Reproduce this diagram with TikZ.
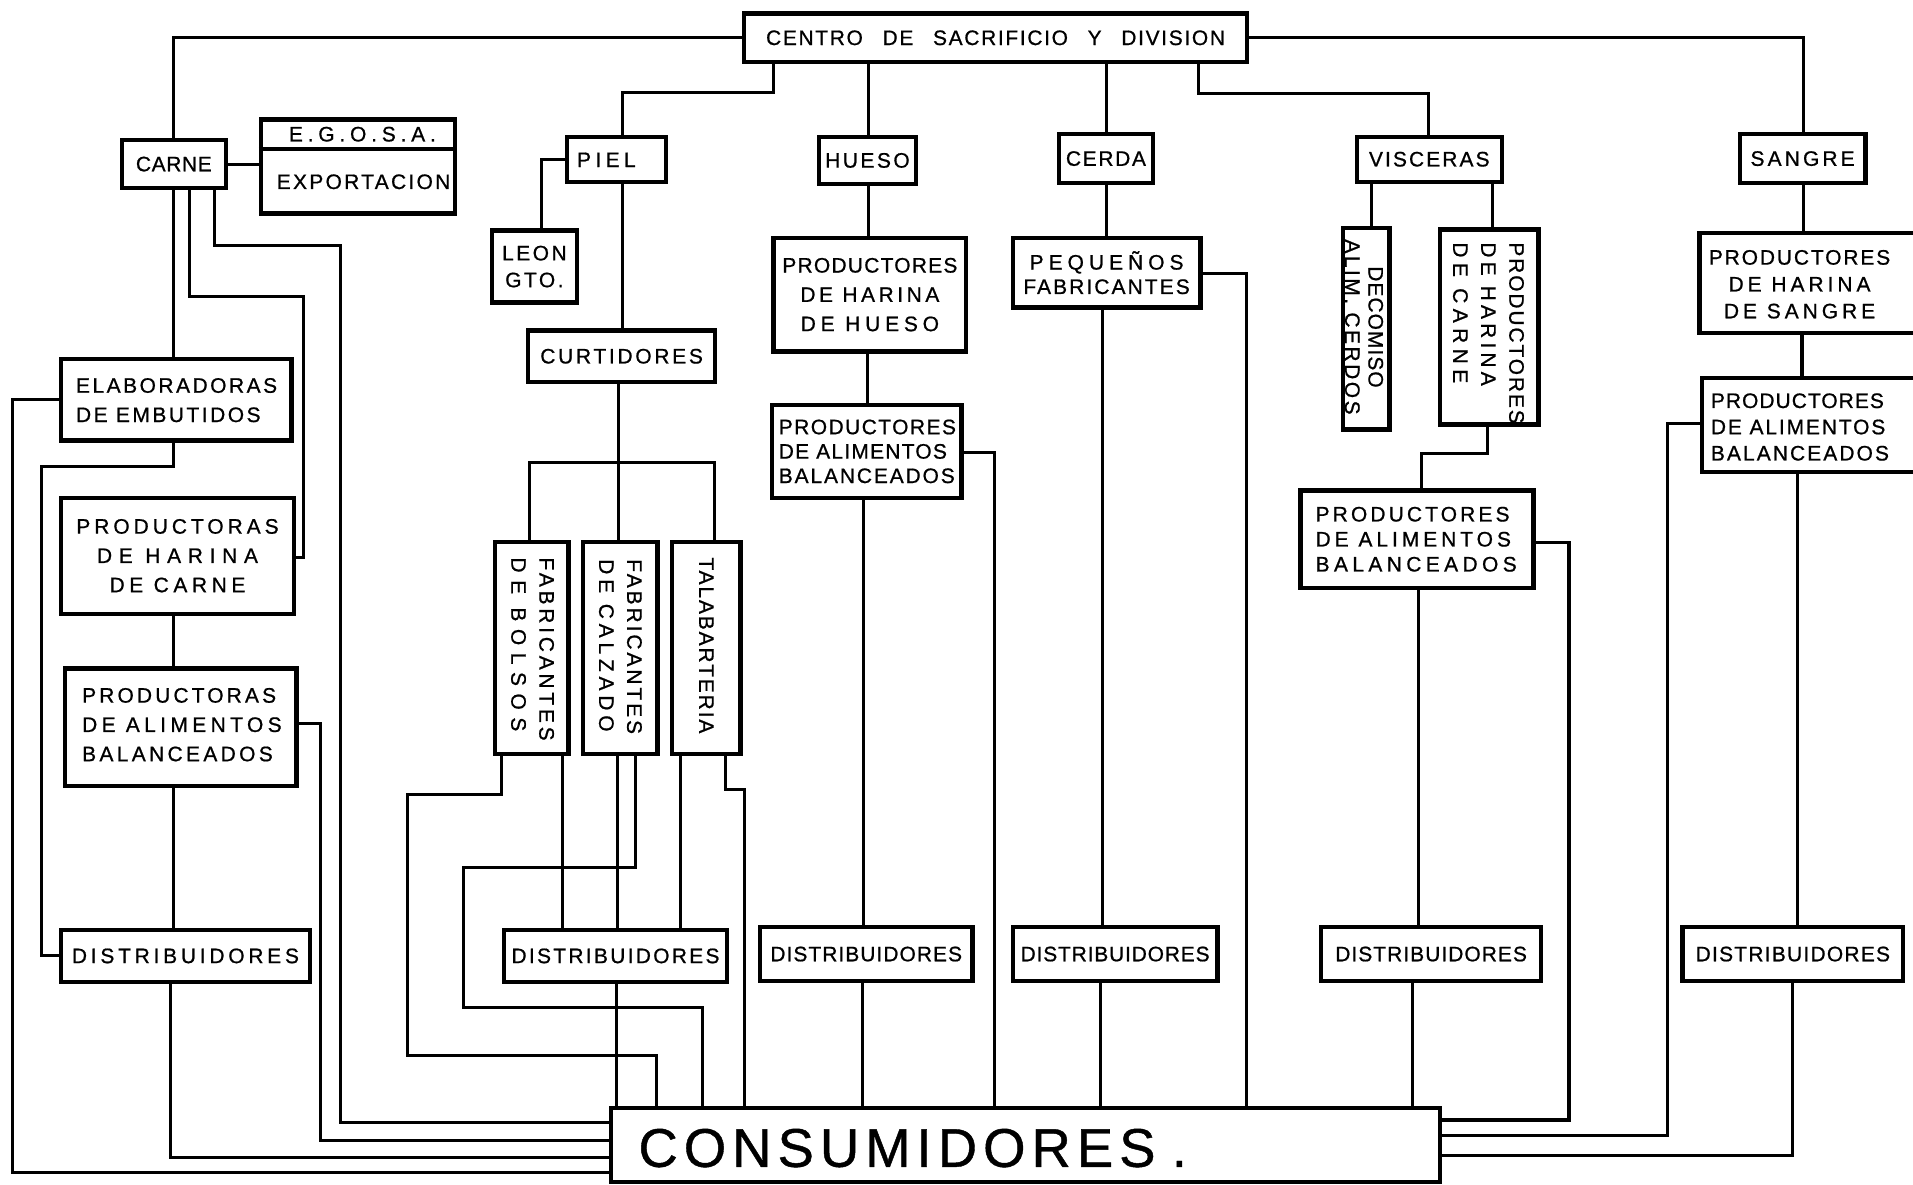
\documentclass[tikz,border=0pt]{standalone}
\usepackage{fontspec}
\setmainfont[FakeBold=0.8]{Liberation Sans}
\newcommand\trk[1]{\addfontfeature{LetterSpace=#1}}
\begin{document}
\begin{tikzpicture}[x=0.6pt,y=-0.6pt,
  box/.style={draw, line width=2.1pt, inner sep=0pt, align=center, font=\fontsize{10.3}{14.4}\selectfont},
  sz/.style 2 args={minimum width=#1*0.6pt, minimum height=#2*0.6pt},
  lbl/.style={inner sep=0pt, font=\fontsize{10.3}{14.4}\selectfont},
  ln/.style={line width=1.5pt, line cap=rect, line join=miter},
]
\useasboundingbox (0,0) rectangle (1568,971);
\clip (0,0) rectangle (1568,971);
\fill[white] (0,0) rectangle (1568,971);

% ---------- boxes ----------
\node[box,sz={412}{40}] (centro) at (816,31) {\trk{8}CENTRO\hspace{6pt} DE\hspace{6pt} SACRIFICIO\hspace{6pt} Y\hspace{6pt} DIVISION};
\node[box,sz={85}{39}] (carne) at (142.5,134.5) {\trk{3}CARNE};
\node[box,sz={159}{77}] (egosa) at (293.5,136.5) {};
\node[box,sz={81}{37}] (piel) at (505.5,130.5) {};
\node[box,sz={70}{59},font=\fontsize{10.3}{13.2}\selectfont] (leon) at (438,218.5) {{\trk{12}LEON}\\{\trk{12}GTO.}};
\node[box,sz={153}{42}] (curt) at (509.5,292) {\trk{13}CURTIDORES};
\node[box,sz={80}{39}] (hueso) at (711,131.5) {\trk{12}HUESO};
\node[box,sz={158}{93}] (hhueso) at (713,241.5) {{\trk{6}PRODUCTORES}\\{\trk{17}DE HARINA}\\{\trk{23}DE HUESO}};
\node[box,sz={155}{76}] (ahueso) at (710.5,370) {};
\node[box,sz={77}{40}] (cerda) at (906.5,130) {\trk{8}CERDA};
\node[box,sz={154}{57},font=\fontsize{10.3}{12}\selectfont] (peq) at (907,223.5) {{\trk{24}PEQUEÑOS}\\{\trk{10}FABRICANTES}};
\node[box,sz={119}{37}] (visc) at (1171.5,130.5) {\trk{10}VISCERAS};
\node[box,sz={38}{165}] (decom) at (1120,269.5) {};
\node[box,sz={81}{160}] (hcarnev) at (1220.5,268) {};
\node[box,sz={191}{80}] (avisc) at (1161.5,442) {};
\node[box,sz={103}{40}] (sangre) at (1477.5,130) {\trk{15}SANGRE};
\node[box,sz={207}{82}] (hsangre) at (1496.5,232) {};
\node[box,sz={205}{77}] (asangre) at (1497.5,348.5) {};
\node[box,sz={189}{67}] (elab) at (144.5,327.5) {};
\node[box,sz={191}{95}] (hcarne) at (145.5,455.5) {{\trk{19}PRODUCTORAS}\\{\trk{32}DE HARINA}\\{\trk{22}DE CARNE}};
\node[box,sz={190}{96}] (acarne) at (148,596) {};
\node[box,sz={60}{174}] (bolsos) at (436,531) {};
\node[box,sz={61}{174}] (calz) at (508.5,531) {};
\node[box,sz={56}{174}] (tala) at (579,531) {};
\node[box,sz={204}{43}] (d1) at (152,783.5) {\trk{18}DISTRIBUIDORES};
\node[box,sz={183}{43}] (d2) at (504.5,783.5) {\trk{11}DISTRIBUIDORES};
\node[box,sz={174}{44}] (d3) at (710,782) {\trk{5}DISTRIBUIDORES};
\node[box,sz={168}{44}] (d4) at (914,782) {\trk{4}DISTRIBUIDORES};
\node[box,sz={180}{44}] (d5) at (1173,782) {\trk{5}DISTRIBUIDORES};
\node[box,sz={181}{44}] (d6) at (1469.5,782) {\trk{6}DISTRIBUIDORES};
\node[box,sz={679}{61}] (cons) at (840.5,938.5) {};

% ---------- separate labels ----------
\draw[line width=2pt] (egosa.west |- 0,122) -- (egosa.east |- 0,122);
\node[lbl] (egosaT) at (297,110) {\trk{23}E.G.O.S.A.};
\node[lbl] (expT) at (298,149) {\trk{11}EXPORTACION};
\node[lbl] (pielT) at (497,131) {\trk{21}PIEL};
\node[lbl,anchor=west,align=left,font=\fontsize{10.3}{12}\selectfont] (ahuesoT) at (638,370) {{\trk{7}PRODUCTORES}\\{\trk{6}DE ALIMENTOS}\\{\trk{9}BALANCEADOS}};
\node[lbl,anchor=west,align=left,font=\fontsize{10.3}{12.3}\selectfont] (aviscT) at (1078,442) {{\trk{15}PRODUCTORES}\\{\trk{19}DE ALIMENTOS}\\{\trk{21}BALANCEADOS}};
\node[lbl,align=center,font=\fontsize{10.3}{13.2}\selectfont] (hsangreT) at (1475,233) {{\trk{9}PRODUCTORES}\\{\trk{19}DE HARINA}\\{\trk{19}DE SANGRE}};
\node[lbl,anchor=west,align=left,font=\fontsize{10.3}{12.9}\selectfont] (asangreT) at (1402,350) {{\trk{5}PRODUCTORES}\\{\trk{9}DE ALIMENTOS}\\{\trk{10}BALANCEADOS}};
\node[lbl,anchor=west,align=left] (elabT) at (62,328) {{\trk{12}ELABORADORAS}\\{\trk{12}DE EMBUTIDOS}};
\node[lbl,anchor=west,align=left] (acarneT) at (67,594) {{\trk{15}PRODUCTORAS}\\{\trk{21}DE ALIMENTOS}\\{\trk{16}BALANCEADOS}};
\node[lbl,rotate=-90,align=left,font=\fontsize{10.3}{13.8}\selectfont] (bolsosT) at (436.5,532) {{\trk{18}FABRICANTES}\\{\trk{36}DE BOLSOS}};
\node[lbl,rotate=-90,align=left,font=\fontsize{10.3}{13.8}\selectfont] (calzT) at (508.5,530) {{\trk{14}FABRICANTES}\\{\trk{23}DE CALZADO}};
\node[lbl,rotate=-90] (talaT) at (579,529) {\trk{9}TALABARTERIA};
\node[lbl,rotate=-90,align=center,font=\fontsize{10.3}{11.5}\selectfont] (decomT) at (1118,268) {{\trk{5}DECOMISO}\\{\trk{12}ALIM. CERDOS}};
\node[lbl,rotate=-90,align=left,font=\fontsize{10.3}{13.8}\selectfont] (hcarnevT) at (1220,273) {{\trk{9}PRODUCTORES}\\{\trk{20}DE HARINA}\\{\trk{26}DE CARNE}};
\node[lbl,anchor=west,font=\fontsize{26.8}{30}\selectfont] (consT) at (523,941) {\trk{11}CONSUMIDORES\hspace{8pt}.};

% ---------- connectors ----------
\draw[ln] (centro.west) -| (carne.north -| 142,0);
\draw[ln] (centro.east) -| (sangre.north -| 1478,0);
\draw[ln] (centro.south -| 634,0) |- (510,76) -- (piel.north -| 510,0);
\draw[ln] (centro.south -| 712,0) -- (hueso.north -| 712,0);
\draw[ln] (centro.south -| 907,0) -- (cerda.north -| 907,0);
\draw[ln] (centro.south -| 982,0) |- (1171,77) -- (visc.north -| 1171,0);

\draw[ln] (carne.east) -- (egosa.west |- carne.east);
\draw[ln] (carne.south -| 142,0) -- (elab.north -| 142,0);
\draw[ln] (carne.south -| 155,0) |- (249,243) |- (hcarne.east |- 0,457);
\draw[ln] (carne.south -| 176,0) |- (279,201) |- (cons.west |- 0,920);
\draw[ln] (elab.west) -| (10,961) -- (cons.west |- 0,961);
\draw[ln] (elab.south -| 142,0) |- (34,382) |- (d1.west);
\draw[ln] (hcarne.south -| 142,0) -- (acarne.north -| 142,0);
\draw[ln] (acarne.east |- 0,593) -| (263,935) -- (cons.west |- 0,935);
\draw[ln] (acarne.south -| 142,0) -- (d1.north -| 142,0);
\draw[ln] (d1.south -| 140,0) |- (cons.west |- 0,949);

\draw[ln] (piel.west) -| (leon.north -| 444,0);
\draw[ln] (piel.south -| 510,0) -- (curt.north -| 510,0);
\draw[ln] (curt.south -| 507,0) -- (calz.north -| 507,0);
\draw[ln] (bolsos.north -| 434,0) |- (586,379) -- (tala.north -| 586,0);
\draw[ln] (bolsos.south -| 411,0) |- (334,651) |- (538,865) -- (cons.north -| 538,0);
\draw[ln] (bolsos.south -| 461,0) -- (d2.north -| 461,0);
\draw[ln] (calz.south -| 506,0) -- (d2.north -| 506,0);
\draw[ln] (calz.south -| 521,0) |- (380,711) |- (576,826) -- (cons.north -| 576,0);
\draw[ln] (tala.south -| 558,0) -- (d2.north -| 558,0);
\draw[ln] (tala.south -| 595,0) |- (610,647) -- (cons.north -| 610,0);
\draw[ln] (d2.south -| 505,0) -- (cons.north -| 505,0);

\draw[ln] (hueso.south -| 712,0) -- (hhueso.north -| 712,0);
\draw[ln] (hhueso.south -| 711,0) -- (ahueso.north -| 711,0);
\draw[ln] (ahueso.east |- 0,371) -| (cons.north -| 815,0);
\draw[ln] (ahueso.south -| 708,0) -- (d3.north -| 708,0);
\draw[ln] (d3.south -| 707,0) -- (cons.north -| 707,0);

\draw[ln] (cerda.south -| 907,0) -- (peq.north -| 907,0);
\draw[ln] (peq.east |- 0,224) -| (cons.north -| 1022,0);
\draw[ln] (peq.south -| 904,0) -- (d4.north -| 904,0);
\draw[ln] (d4.south -| 902,0) -- (cons.north -| 902,0);

\draw[ln] (visc.south -| 1124,0) -- (decom.north -| 1124,0);
\draw[ln] (visc.south -| 1223,0) -- (hcarnev.north -| 1223,0);
\draw[ln] (hcarnev.south -| 1219,0) |- (1165,372) -- (avisc.north -| 1165,0);
\draw[ln] (avisc.east |- 0,445) -| (1286,918) -- (cons.east |- 0,918);
\draw[ln] (avisc.south -| 1163,0) -- (d5.north -| 1163,0);
\draw[ln] (d5.south -| 1158,0) -- (cons.north -| 1158,0);

\draw[ln] (sangre.south -| 1478,0) -- (hsangre.north -| 1478,0);
\draw[ln] (hsangre.south -| 1477,0) -- (asangre.north -| 1477,0);
\draw[ln] (asangre.west |- 0,347) -| (1367,931) -- (cons.east |- 0,931);
\draw[ln] (asangre.south -| 1473,0) -- (d6.north -| 1473,0);
\draw[ln] (d6.south -| 1469,0) |- (cons.east |- 0,947);
\end{tikzpicture}
\end{document}
